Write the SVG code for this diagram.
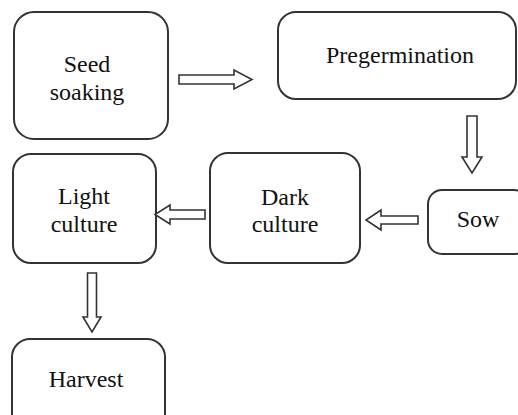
<svg xmlns="http://www.w3.org/2000/svg" width="518" height="415" viewBox="0 0 518 415">
<style>
.box{fill:#fff;stroke:#333;stroke-width:2}
.arr{fill:#fff;stroke:#333;stroke-width:1.6;stroke-linejoin:miter}
</style>
<rect width="518" height="415" fill="#fff"/>
<g font-family="Liberation Serif, Times New Roman, serif" font-size="24" fill="#111" text-anchor="middle">
<g id="seed-soaking">
<rect class="box" x="14" y="12" width="154" height="127" rx="20"/>
<text x="87" y="72">Seed</text>
<text x="87" y="100">soaking</text>
</g>
<g id="pregermination">
<rect class="box" x="278" y="12" width="238" height="87" rx="18"/>
<text x="400" y="63">Pregermination</text>
</g>
<g id="sow">
<rect class="box" x="428" y="190" width="100" height="64" rx="14"/>
<text x="478" y="227">Sow</text>
</g>
<g id="dark-culture">
<rect class="box" x="210" y="153" width="150" height="110" rx="18"/>
<text x="285" y="205">Dark</text>
<text x="285" y="232">culture</text>
</g>
<g id="light-culture">
<rect class="box" x="13" y="154" width="143" height="109" rx="18"/>
<text x="84" y="204">Light</text>
<text x="84" y="232">culture</text>
</g>
<g id="harvest">
<rect class="box" x="12" y="339" width="153" height="100" rx="18"/>
<text x="86" y="387">Harvest</text>
</g>
</g>
<g id="connectors">
<polygon class="arr" points="179,75 234,75 234,70 252,79.5 234,89 234,84 179,84"/>
<polygon class="arr" points="467,116 477,116 477,157 482,157 472,173 462,157 467,157"/>
<polygon class="arr" points="418,216 381,216 381,210 366,220 381,230 381,224 418,224"/>
<polygon class="arr" points="205,210 170,210 170,205 155,214.5 170,224 170,219 205,219"/>
<polygon class="arr" points="87.5,273 96.5,273 96.5,317 101,317 92,332 83,317 87.5,317"/>
</g>
</svg>
